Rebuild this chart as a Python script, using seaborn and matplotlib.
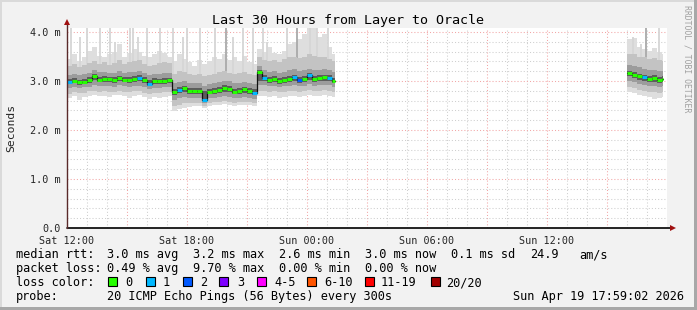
import numpy as np
import pandas as pd
import matplotlib
matplotlib.use("Agg")
import matplotlib.pyplot as plt
import seaborn as sns
from matplotlib.patches import Rectangle

# ---------------- data ----------------
title = "Last 30 Hours from Layer to Oracle"
tick_hours = [0, 6, 12, 18, 24]
tick_labels = ["Sat 12:00", "Sat 18:00", "Sun 00:00", "Sun 06:00", "Sun 12:00"]
ytick_vals = [0, 1, 2, 3, 4]
ytick_labels = ["0.0", "1.0 m", "2.0 m", "3.0 m", "4.0 m"]

step_h = 0.25  # hours per sample column
seg_start = [0.0, 28.0]
seg_end = [13.4, 29.8]

# segment 1 (Sat 12:00 .. Sun 01:24), median rtt in ms
seg1_med = [2.98, 3.01, 2.97, 2.98, 3.02, 3.10, 3.03, 3.05, 3.04, 3.02, 3.06, 3.03, 3.02, 3.04,
            3.07, 3.02, 2.93, 3.00, 2.99, 3.00, 3.02,
            2.78, 2.82, 2.86, 2.80, 2.79, 2.80, 2.62, 2.78, 2.80, 2.82, 2.86, 2.84, 2.78, 2.80,
            2.83, 2.80, 2.76,
            3.18, 3.07, 3.02, 3.04, 3.00, 3.03, 3.05, 3.08, 3.02, 3.05, 3.12, 3.04, 3.06, 3.08,
            3.06, 3.01]
seg1_loss = [1, 0, 0, 0, 0, 0, 0, 0, 0, 0, 0, 0, 0, 0, 1, 0, 1, 0, 0, 0, 0,
             0, 1, 0, 0, 0, 0, 1, 0, 0, 0, 0, 0, 0, 0, 0, 0, 1,
             0, 1, 0, 0, 0, 0, 0, 1, 2, 0, 1, 0, 0, 0, 1, 0]
seg1_lo1 = [2.93, 2.95, 2.92, 2.93, 2.96, 3.02, 2.97, 2.98, 2.97, 2.96, 2.99, 2.97, 2.96, 2.98,
            3.00, 2.96, 2.89, 2.94, 2.93, 2.94, 2.95,
            2.72, 2.75, 2.78, 2.74, 2.73, 2.74, 2.60, 2.73, 2.74, 2.76, 2.78, 2.77, 2.73, 2.74,
            2.76, 2.74, 2.71,
            3.00, 3.00, 2.96, 2.97, 2.94, 2.96, 2.98, 3.00, 2.96, 2.98, 3.03, 2.97, 2.99, 3.00,
            2.99, 2.95]
seg1_hi1 = [3.04, 3.07, 3.03, 3.05, 3.08, 3.14, 3.09, 3.10, 3.09, 3.08, 3.11, 3.09, 3.08, 3.10,
            3.12, 3.08, 3.02, 3.06, 3.05, 3.06, 3.07,
            2.84, 2.87, 2.90, 2.86, 2.85, 2.86, 2.80, 2.84, 2.86, 2.88, 2.91, 2.89, 2.84, 2.86,
            2.88, 2.86, 2.83,
            3.22, 3.12, 3.08, 3.10, 3.06, 3.09, 3.11, 3.13, 3.08, 3.11, 3.16, 3.10, 3.12, 3.13,
            3.12, 3.07]
seg1_lo2 = [2.86, 2.88, 2.85, 2.87, 2.88, 2.92, 2.89, 2.90, 2.89, 2.88, 2.91, 2.89, 2.88, 2.90,
            2.90, 2.87, 2.84, 2.86, 2.86, 2.87, 2.88,
            2.62, 2.65, 2.68, 2.66, 2.65, 2.66, 2.56, 2.65, 2.66, 2.68, 2.69, 2.68, 2.65, 2.66,
            2.67, 2.66, 2.64,
            2.92, 2.92, 2.89, 2.90, 2.87, 2.89, 2.90, 2.92, 2.89, 2.90, 2.93, 2.90, 2.91, 2.92,
            2.91, 2.88]
seg1_hi2 = [3.12, 3.15, 3.12, 3.14, 3.17, 3.22, 3.18, 3.18, 3.17, 3.16, 3.20, 3.17, 3.18, 3.19,
            3.20, 3.16, 3.12, 3.15, 3.14, 3.16, 3.17,
            2.95, 2.97, 3.00, 2.96, 2.95, 2.96, 2.90, 2.94, 2.96, 2.98, 3.00, 2.99, 2.95, 2.96,
            2.98, 2.96, 2.94,
            3.30, 3.22, 3.18, 3.20, 3.16, 3.19, 3.22, 3.24, 3.20, 3.22, 3.25, 3.22, 3.23, 3.24,
            3.22, 3.18]
seg1_lo3 = [2.74, 2.78, 2.75, 2.76, 2.79, 2.80, 2.78, 2.80, 2.77, 2.78, 2.80, 2.78, 2.77, 2.79,
            2.80, 2.76, 2.74, 2.76, 2.75, 2.77, 2.78,
            2.48, 2.52, 2.55, 2.55, 2.56, 2.56, 2.50, 2.56, 2.57, 2.58, 2.59, 2.58, 2.56, 2.57,
            2.58, 2.57, 2.55,
            2.80, 2.80, 2.78, 2.79, 2.77, 2.78, 2.79, 2.80, 2.78, 2.80, 2.82, 2.79, 2.80, 2.81,
            2.80, 2.78]
seg1_hi3 = [3.30, 3.35, 3.28, 3.32, 3.36, 3.40, 3.34, 3.38, 3.33, 3.36, 3.42, 3.35, 3.38, 3.40,
            3.42, 3.34, 3.30, 3.32, 3.36, 3.38, 3.36,
            3.15, 3.20, 3.18, 3.15, 3.12, 3.14, 3.10, 3.12, 3.15, 3.18, 3.20, 3.16, 3.14, 3.16,
            3.18, 3.14, 3.12,
            3.48, 3.42, 3.40, 3.42, 3.38, 3.44, 3.48, 3.50, 3.46, 3.50, 3.55, 3.52, 3.50, 3.48,
            3.45, 3.40]
seg1_lo4 = [2.66, 2.70, 2.62, 2.68, 2.70, 2.72, 2.69, 2.70, 2.68, 2.71, 2.72, 2.70, 2.66, 2.70,
            2.72, 2.68, 2.64, 2.67, 2.66, 2.68, 2.70,
            2.38, 2.42, 2.45, 2.47, 2.50, 2.50, 2.44, 2.50, 2.52, 2.52, 2.53, 2.52, 2.50, 2.51,
            2.52, 2.51, 2.49,
            2.70, 2.70, 2.68, 2.69, 2.66, 2.68, 2.69, 2.70, 2.67, 2.70, 2.72, 2.69, 2.70, 2.71,
            2.70, 2.68]
seg1_hi4 = [3.45, 3.55, 3.40, 3.50, 3.62, 3.70, 3.52, 3.48, 3.55, 3.60, 3.75, 3.50, 3.58, 3.65,
            3.60, 3.52, 3.48, 3.55, 3.62, 3.58, 3.50,
            3.40, 3.55, 3.45, 3.38, 3.30, 3.42, 3.35, 3.40, 3.50, 3.45, 3.55, 3.42, 3.48, 3.40,
            3.52, 3.38, 3.35,
            3.65, 3.60, 3.70, 3.58, 3.55, 3.62, 3.75, 3.80, 3.85, 3.95, 4.10, 4.10, 3.90, 3.95,
            3.70, 3.55]

# segment 2 (Sun 16:00 .. Sun 17:50)
seg2_med = [3.16, 3.12, 3.10, 3.08, 3.05, 3.06, 3.03, 3.04]
seg2_loss = [0, 0, 0, 1, 0, 0, 0, 0]
seg2_lo1 = [3.10, 3.06, 3.03, 3.00, 2.98, 2.98, 2.96, 2.97]
seg2_hi1 = [3.21, 3.18, 3.15, 3.13, 3.11, 3.12, 3.09, 3.10]
seg2_lo2 = [3.00, 2.97, 2.94, 2.92, 2.90, 2.90, 2.88, 2.89]
seg2_hi2 = [3.32, 3.30, 3.28, 3.25, 3.22, 3.22, 3.20, 3.20]
seg2_lo3 = [2.88, 2.85, 2.82, 2.80, 2.78, 2.78, 2.76, 2.77]
seg2_hi3 = [3.55, 3.55, 3.50, 3.48, 3.45, 3.46, 3.42, 3.40]
seg2_lo4 = [2.78, 2.75, 2.72, 2.70, 2.68, 2.64, 2.66, 2.68]
seg2_hi4 = [3.85, 3.88, 3.70, 3.65, 3.62, 3.68, 3.60, 3.55]

# isolated tall outliers (hours, top in ms, dark flag)
spike_hours = [0.2, 0.65, 1.0, 1.65, 2.15, 2.4, 3.15, 3.3, 3.55, 4.0, 4.65, 5.3, 5.8, 6.0,
               6.65, 7.4, 7.95, 8.3, 8.8, 9.3, 9.8, 10.0, 11.0, 11.5, 12.15, 12.5, 13.05,
               28.3, 28.7, 28.95, 29.6]
spike_tops = [4.1, 3.9, 4.1, 4.1, 4.1, 3.8, 4.1, 4.1, 3.9, 4.1, 4.1, 4.1, 3.9, 4.1,
              4.1, 4.1, 4.1, 3.9, 4.1, 4.1, 4.1, 3.8, 4.1, 4.1, 4.1, 4.1, 4.1,
              3.9, 3.75, 4.1, 4.1]
spike_dark = [0, 0, 0, 0, 0, 0, 0, 0, 0, 0, 0, 0, 0, 0,
              0, 0, 1, 0, 0, 0, 0, 0, 0, 1, 0, 0, 0,
              0, 0, 1, 0]

loss_labels = ["0", "1", "2", "3", "4-5", "6-10", "11-19", "20/20"]
loss_colors = ["#26ff00", "#00b8ff", "#0059ff", "#7e00ff", "#ff00ff", "#ff5500", "#ff0000", "#a10000"]

legend_rows = [
    [(16, "median rtt:"), (107, "3.0 ms avg"), (193, "3.2 ms max"), (279, "2.6 ms min"),
     (365, "3.0 ms now"), (451, "0.1 ms sd"), (530, "24.9"), (579, "am/s")],
    [(16, "packet loss:"), (107, "0.49 % avg"), (193, "9.70 % max"), (279, "0.00 % min"),
     (365, "0.00 % now")],
    [(16, "loss color:")],
    [(16, "probe:"), (107, "20 ICMP Echo Pings (56 Bytes) every 300s"),
     (513, "Sun Apr 19 17:59:02 2026")],
]

# ---------------- drawing ----------------
W, H = 697, 310
sns.set_theme(style="white")
plt.rcParams["font.family"] = ["DejaVu Sans Mono", "DejaVu Sans"]

BG = "#f2f2f2"
fig = plt.figure(figsize=(W / 100, H / 100), dpi=100, facecolor=BG)
ax = fig.add_axes([67 / W, 1 - 228 / H, 600 / W, 200 / H])
ax.set_facecolor("white")
ax.set_xlim(0, 30)
ax.set_ylim(0, 200 / 49)

def fx(x):
    return x / W

def fy(y):
    return 1 - y / H

# grid
dot = (0, (1, 2))
for h in range(1, 30):
    c = "#f2a6a6" if h % 3 == 0 else "#cfcfcf"
    ax.axvline(h, color=c, lw=0.75, ls=dot, zorder=0)
for k in range(1, 21):
    v = k * 0.2
    c = "#f2a6a6" if k % 5 == 0 else "#cfcfcf"
    ax.axhline(v, color=c, lw=0.75, ls=dot, zorder=0)

segments = [
    (seg1_med, seg1_loss, seg1_lo1, seg1_hi1, seg1_lo2, seg1_hi2, seg1_lo3, seg1_hi3, seg1_lo4, seg1_hi4),
    (seg2_med, seg2_loss, seg2_lo1, seg2_hi1, seg2_lo2, seg2_hi2, seg2_lo3, seg2_hi3, seg2_lo4, seg2_hi4),
]
shades = ["#dedede", "#c3c3c3", "#9c9c9c", "#5c5c5c"]

for si, seg in enumerate(segments):
    med, loss, lo1, hi1, lo2, hi2, lo3, hi3, lo4, hi4 = [np.asarray(a, float) for a in seg]
    n = len(med)
    edges = seg_start[si] + step_h * np.arange(n + 1)
    edges[-1] = seg_end[si]
    bands = [(lo4, hi4), (lo3, hi3), (lo2, hi2), (lo1, hi1)]
    for zi, ((lo, hi), col) in enumerate(zip(bands, shades)):
        ax.fill_between(edges, np.r_[lo, lo[-1]], np.r_[hi, hi[-1]], step="post",
                        color=col, lw=0, zorder=2 + zi * 0.5)
    df = pd.DataFrame({"t": edges, "rtt": np.r_[med, med[-1]]})
    sns.lineplot(data=df, x="t", y="rtt", ax=ax, color="#111111", lw=0.9,
                 drawstyle="steps-post", estimator=None, sort=False, zorder=5)
    cols = [loss_colors[int(l)] for l in loss]
    ax.hlines(med, edges[:-1] + 0.015, edges[1:] - 0.015, colors=cols, lw=2.2, zorder=6)

# outliers
st = np.asarray(spike_hours)
sp = np.asarray(spike_tops)
sd = np.asarray(spike_dark)
ax.vlines(st[sd == 0], 3.0, sp[sd == 0], color="#d6d6d6", lw=1.3, zorder=2.2)
ax.vlines(st[sd == 1], 3.0, sp[sd == 1], color="#a9a9a9", lw=1.3, zorder=2.3)

ax.set_xlabel("")
ax.set_ylabel("")
for s in ax.spines.values():
    s.set_visible(False)

ax.set_xticks(tick_hours)
ax.set_xticklabels(tick_labels, fontsize=7.3)
ax.set_yticks(ytick_vals)
ax.set_yticklabels(ytick_labels, fontsize=7.3)
ax.tick_params(axis="both", length=2.5, width=0.8, color="#444444", pad=2, direction="out")
ax.tick_params(axis="x", pad=3)
ax.tick_params(axis="y", pad=2)

# axis lines with arrows
ax.plot([0, 1.009], [0, 0], transform=ax.transAxes, color="black", lw=1.2, clip_on=False, zorder=8)
ax.plot([0, 0], [0, 1.02], transform=ax.transAxes, color="#5a2a2a", lw=1.0, clip_on=False, zorder=8)
ax.plot([1.0095], [0], transform=ax.transAxes, marker=">", ms=4, color="#a01010", clip_on=False, zorder=9, mew=0)
ax.plot([0], [1.03], transform=ax.transAxes, marker="^", ms=4, color="#a01010", clip_on=False, zorder=9, mew=0)

# texts
fig.text(fx(348), fy(24), title, ha="center", va="baseline", fontsize=9.6, color="black")
fig.text(fx(11), fy(128), "Seconds", rotation=90, ha="center", va="center", fontsize=8.2)
fig.text(fx(687.5), fy(5), "RRDTOOL / TOBI OETIKER", rotation=270, ha="center", va="top",
         fontsize=5.9, color="#a0a0a0")

row_base = [258, 272, 286, 300]
for rb, row in zip(row_base, legend_rows):
    for x, s in row:
        fig.text(fx(x), fy(rb), s, ha="left", va="baseline", fontsize=8.55, color="black")

box_x = [108, 146, 183, 219, 257, 307, 365, 431]
lab_x = [125, 163, 200, 237, 274, 324, 381, 446]
for bx, lx, c, lab in zip(box_x, lab_x, loss_colors, loss_labels):
    fig.patches.append(Rectangle((fx(bx), fy(286)), 9 / W, 9 / H, transform=fig.transFigure,
                                 facecolor=c, edgecolor="black", lw=0.8, figure=fig))
    fig.text(fx(lx), fy(286), lab, ha="left", va="baseline", fontsize=8.55, color="black")

# frame of the canvas
fig.patches.append(Rectangle((0, 1 - 2 / H), 1, 2 / H, transform=fig.transFigure, facecolor="#dadada", lw=0, figure=fig))
fig.patches.append(Rectangle((0, 0), 2 / W, 1, transform=fig.transFigure, facecolor="#dadada", lw=0, figure=fig))
fig.patches.append(Rectangle((1 - 3 / W, 0), 3 / W, 1, transform=fig.transFigure, facecolor="#a8a8a8", lw=0, figure=fig))
fig.patches.append(Rectangle((0, 0), 1, 3 / H, transform=fig.transFigure, facecolor="#a8a8a8", lw=0, figure=fig))

fig.savefig("out.png", dpi=100, facecolor=BG)
